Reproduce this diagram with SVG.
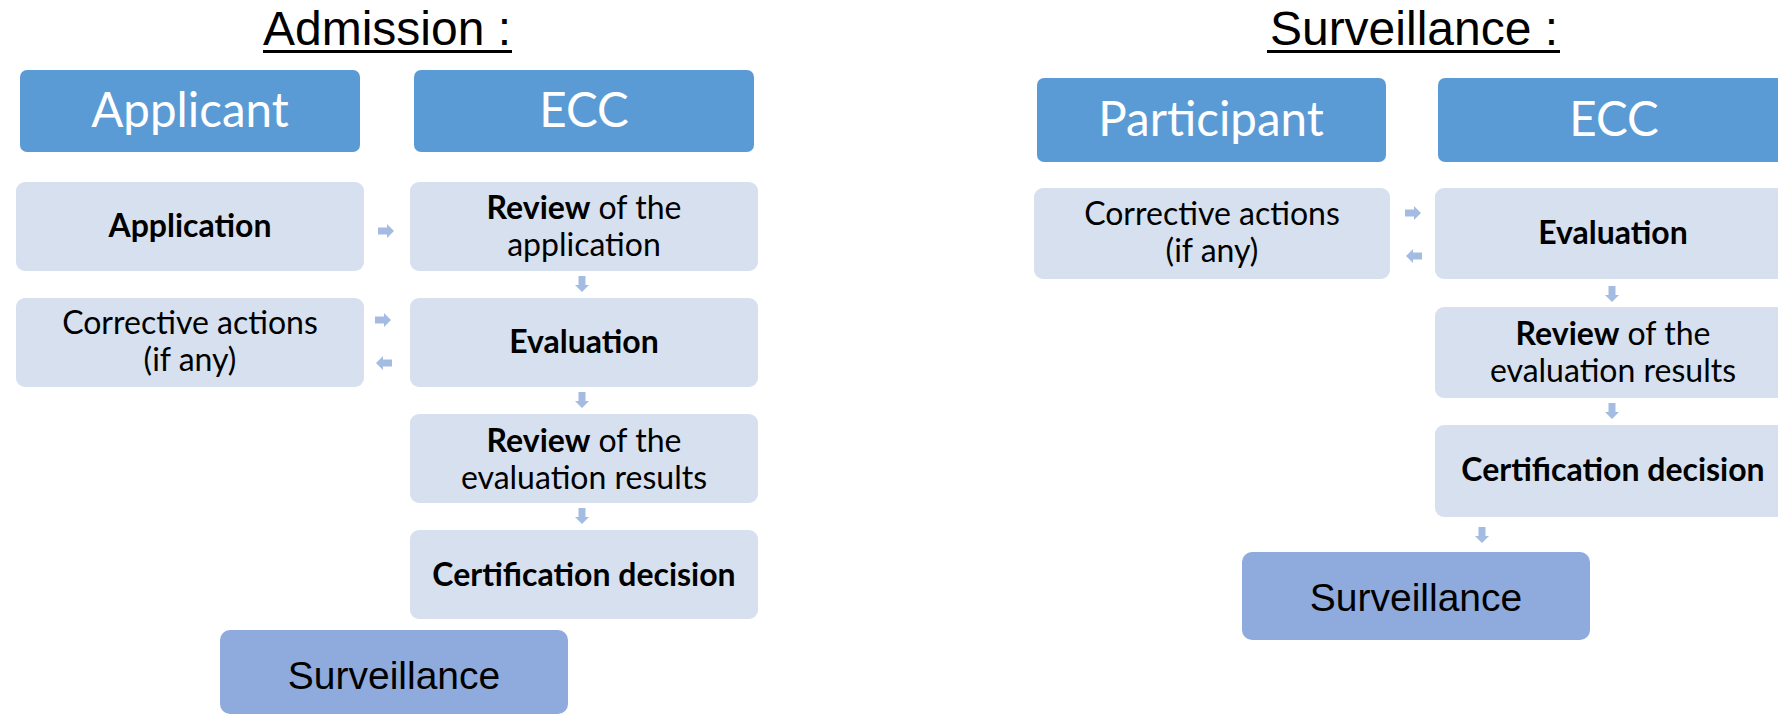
<svg xmlns="http://www.w3.org/2000/svg" width="1778" height="715" viewBox="0 0 1778 715">
<style>
.title{font-family:"Liberation Sans",Arial,sans-serif;font-size:48px;fill:#000;text-anchor:middle}
.ul{stroke:#000;stroke-width:3}
.hdr{fill:#5B9BD5}
.hdrt{font-family:Lato,"Open Sans",sans-serif;font-size:47.5px;fill:#fff;text-anchor:middle}
.box{fill:#D6E0EF}
.bt{font-family:Lato,"Open Sans",sans-serif;font-size:32px;fill:#000;text-anchor:middle}
.b{font-weight:bold}
.sv{fill:#8FAADC}
.svt{font-family:"Liberation Sans",Arial,sans-serif;font-size:39px;fill:#000;text-anchor:middle}
.arr{fill:#A5BCE2}
</style>
<defs>
<path id="ar" d="M-8,-3.5 H1 V-7 L8,0 L1,7 V3.5 H-8 Z"/>
</defs>
<rect width="1778" height="715" fill="#fff"/>

<g id="title-admission">
<text class="title" x="387" y="45">Admission :</text>
<line class="ul" x1="263" y1="51.5" x2="512" y2="51.5"/>
</g>
<g id="title-surveillance">
<text class="title" x="1414" y="45">Surveillance :</text>
<line class="ul" x1="1267" y1="51.5" x2="1560" y2="51.5"/>
</g>

<!-- Admission -->
<g id="a-applicant"><rect class="hdr" x="20" y="70" width="340" height="82" rx="7"/><text class="hdrt" x="190" y="127">Applicant</text></g>
<g id="a-ecc"><rect class="hdr" x="414" y="70" width="340" height="82" rx="7"/><text class="hdrt" x="584" y="127">ECC</text></g>
<g id="a-application"><rect class="box" x="16" y="182" width="348" height="89" rx="9"/><text class="bt b" x="190" y="237">Application</text></g>
<g id="a-review-app"><rect class="box" x="410" y="182" width="348" height="89" rx="9"/><text class="bt" x="584" y="219"><tspan class="b">Review</tspan> of the</text><text class="bt" x="584" y="256">application</text></g>
<g id="a-corrective"><rect class="box" x="16" y="298" width="348" height="89" rx="9"/><text class="bt" x="190" y="334">Corrective actions</text><text class="bt" x="190" y="371">(if any)</text></g>
<g id="a-evaluation"><rect class="box" x="410" y="298" width="348" height="89" rx="9"/><text class="bt b" x="584" y="353">Evaluation</text></g>
<g id="a-review-eval"><rect class="box" x="410" y="414" width="348" height="89" rx="9"/><text class="bt" x="584" y="452"><tspan class="b">Review</tspan> of the</text><text class="bt" x="584" y="489">evaluation results</text></g>
<g id="a-cert"><rect class="box" x="410" y="530" width="348" height="89" rx="9"/><text class="bt b" x="584" y="586">Certification decision</text></g>
<g id="a-surveillance"><rect class="sv" x="220" y="630" width="348" height="84" rx="10"/><text class="svt" x="394" y="689">Surveillance</text></g>

<!-- Surveillance -->
<g id="s-participant"><rect class="hdr" x="1037" y="78" width="349" height="84" rx="7"/><text class="hdrt" x="1211" y="136">Participant</text></g>
<g id="s-ecc"><rect class="hdr" x="1438" y="78" width="349" height="84" rx="7"/><text class="hdrt" x="1614" y="136">ECC</text></g>
<g id="s-corrective"><rect class="box" x="1034" y="188" width="356" height="91" rx="9"/><text class="bt" x="1212" y="225">Corrective actions</text><text class="bt" x="1212" y="262">(if any)</text></g>
<g id="s-evaluation"><rect class="box" x="1435" y="188" width="356" height="91" rx="9"/><text class="bt b" x="1613" y="244">Evaluation</text></g>
<g id="s-review-eval"><rect class="box" x="1435" y="307" width="356" height="91" rx="9"/><text class="bt" x="1613" y="345"><tspan class="b">Review</tspan> of the</text><text class="bt" x="1613" y="382">evaluation results</text></g>
<g id="s-cert"><rect class="box" x="1435" y="425" width="356" height="92" rx="9"/><text class="bt b" x="1613" y="481">Certification decision</text></g>
<g id="s-surveillance"><rect class="sv" x="1242" y="552" width="348" height="88" rx="10"/><text class="svt" x="1416" y="611">Surveillance</text></g>

<g id="connectors" class="arr">
<use href="#ar" transform="translate(386,231)"/>
<use href="#ar" transform="translate(582,284) rotate(90)"/>
<use href="#ar" transform="translate(383,320)"/>
<use href="#ar" transform="translate(384,363) rotate(180)"/>
<use href="#ar" transform="translate(582,400) rotate(90)"/>
<use href="#ar" transform="translate(582,516) rotate(90)"/>
<use href="#ar" transform="translate(1413,213)"/>
<use href="#ar" transform="translate(1414,256) rotate(180)"/>
<use href="#ar" transform="translate(1612,294) rotate(90)"/>
<use href="#ar" transform="translate(1612,411) rotate(90)"/>
<use href="#ar" transform="translate(1482,535) rotate(90)"/>
</g>
</svg>
